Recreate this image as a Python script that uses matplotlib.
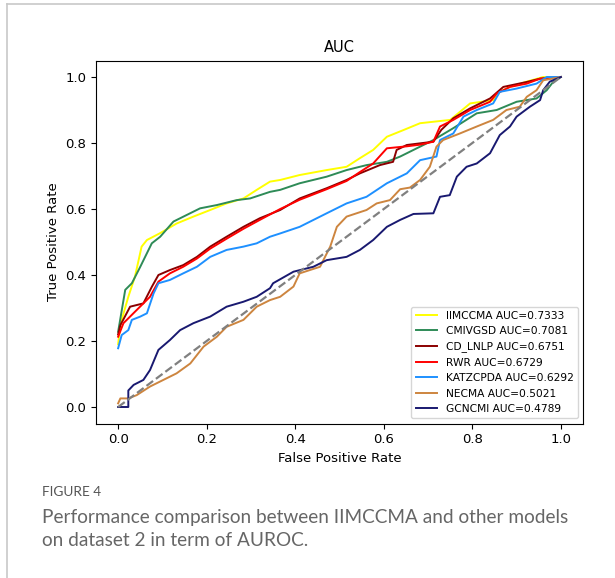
import matplotlib
matplotlib.use("Agg")
import matplotlib.pyplot as plt
from matplotlib.lines import Line2D

# ROC curves
iimccma_x = [0, 0.005, 0.023, 0.038, 0.053, 0.065, 0.095, 0.132, 0.17, 0.208, 0.245, 0.283, 0.313, 0.343,
             0.366, 0.41, 0.471, 0.516, 0.546, 0.576, 0.607, 0.644, 0.682, 0.75, 0.795, 0.847, 0.862,
             0.885, 0.923, 0.96, 1.0]
iimccma_y = [0.19, 0.25, 0.334, 0.395, 0.486, 0.506, 0.527, 0.556, 0.577, 0.597, 0.617, 0.632, 0.658, 0.683,
             0.688, 0.703, 0.718, 0.728, 0.754, 0.779, 0.819, 0.839, 0.86, 0.87, 0.92, 0.93, 0.955,
             0.97, 0.986, 1.0, 1.0]

cmivgsd_x = [0, 0.016, 0.031, 0.05, 0.065, 0.076, 0.095, 0.125, 0.155, 0.185, 0.223, 0.268, 0.298, 0.343,
             0.366, 0.41, 0.471, 0.516, 0.561, 0.607, 0.637, 0.682, 0.712, 0.757, 0.81, 0.855, 0.9,
             0.945, 0.968, 0.983, 1.0]
cmivgsd_y = [0.228, 0.355, 0.375, 0.425, 0.466, 0.496, 0.516, 0.562, 0.582, 0.602, 0.612, 0.627, 0.632, 0.652,
             0.658, 0.678, 0.698, 0.718, 0.733, 0.743, 0.759, 0.789, 0.809, 0.845, 0.89, 0.9, 0.925,
             0.935, 0.96, 0.986, 1.0]

cdlnlp_x = [0, 0.005, 0.027, 0.057, 0.076, 0.091, 0.117, 0.147, 0.178, 0.208, 0.245, 0.283, 0.32, 0.366,
            0.41, 0.471, 0.516, 0.546, 0.591, 0.621, 0.629, 0.652, 0.682, 0.712, 0.73, 0.757, 0.795,
            0.84, 0.87, 0.923, 0.953, 1.0]
cdlnlp_y = [0.22, 0.248, 0.304, 0.314, 0.364, 0.4, 0.415, 0.43, 0.455, 0.486, 0.516, 0.546, 0.572, 0.597,
            0.632, 0.663, 0.688, 0.708, 0.733, 0.743, 0.779, 0.794, 0.799, 0.804, 0.84, 0.875, 0.905,
            0.935, 0.97, 0.985, 0.995, 1.0]

rwr_x = [0, 0.012, 0.042, 0.072, 0.091, 0.117, 0.147, 0.178, 0.208, 0.245, 0.283, 0.32, 0.366, 0.41,
         0.471, 0.516, 0.546, 0.576, 0.607, 0.652, 0.682, 0.712, 0.727, 0.757, 0.795, 0.84, 0.855,
         0.885, 0.923, 0.953, 1.0]
rwr_y = [0.213, 0.254, 0.294, 0.334, 0.38, 0.405, 0.425, 0.45, 0.48, 0.51, 0.54, 0.567, 0.6, 0.628,
         0.66, 0.685, 0.712, 0.738, 0.784, 0.79, 0.795, 0.804, 0.85, 0.87, 0.9, 0.925, 0.95,
         0.97, 0.98, 0.995, 1.0]

katz_x = [0, 0.008, 0.023, 0.031, 0.05, 0.065, 0.08, 0.091, 0.117, 0.147, 0.178, 0.208, 0.245, 0.283,
          0.313, 0.343, 0.366, 0.41, 0.471, 0.516, 0.561, 0.607, 0.652, 0.682, 0.719, 0.727, 0.757,
          0.78, 0.81, 0.847, 0.862, 0.9, 0.945, 0.968, 1.0]
katz_y = [0.178, 0.218, 0.233, 0.264, 0.274, 0.284, 0.344, 0.375, 0.385, 0.405, 0.425, 0.455, 0.476, 0.486,
          0.496, 0.516, 0.526, 0.546, 0.587, 0.617, 0.637, 0.678, 0.708, 0.748, 0.759, 0.809, 0.829,
          0.88, 0.9, 0.92, 0.955, 0.965, 0.98, 1.0, 1.0]

necma_x = [0, 0.005, 0.023, 0.042, 0.072, 0.102, 0.132, 0.163, 0.193, 0.223, 0.245, 0.283, 0.313, 0.343,
           0.366, 0.396, 0.41, 0.456, 0.479, 0.494, 0.516, 0.561, 0.584, 0.614, 0.637, 0.659, 0.682,
           0.704, 0.719, 0.734, 0.772, 0.81, 0.847, 0.877, 0.907, 0.923, 0.945, 0.96, 1.0]
necma_y = [0.011, 0.026, 0.026, 0.036, 0.062, 0.082, 0.102, 0.132, 0.183, 0.213, 0.243, 0.264, 0.304, 0.324,
           0.334, 0.365, 0.405, 0.425, 0.486, 0.546, 0.577, 0.597, 0.617, 0.627, 0.66, 0.665, 0.688,
           0.728, 0.789, 0.809, 0.829, 0.85, 0.87, 0.9, 0.91, 0.94, 0.96, 0.99, 1.0]

gcncmi_x = [0, 0.023, 0.023, 0.035, 0.057, 0.072, 0.091, 0.117, 0.14, 0.17, 0.208, 0.245, 0.283, 0.313,
            0.343, 0.35, 0.396, 0.441, 0.471, 0.516, 0.546, 0.576, 0.607, 0.637, 0.667, 0.712, 0.727,
            0.749, 0.765, 0.787, 0.81, 0.84, 0.862, 0.885, 0.9, 0.93, 0.953, 0.96, 0.975, 1.0]
gcncmi_y = [0, 0, 0.05, 0.067, 0.082, 0.112, 0.173, 0.203, 0.233, 0.254, 0.274, 0.304, 0.319, 0.334,
            0.36, 0.375, 0.41, 0.425, 0.445, 0.455, 0.476, 0.506, 0.546, 0.567, 0.585, 0.587, 0.637,
            0.642, 0.698, 0.728, 0.738, 0.769, 0.824, 0.85, 0.88, 0.91, 0.93, 0.96, 0.986, 1.0]

labels = ['IIMCCMA AUC=0.7333', 'CMIVGSD AUC=0.7081', 'CD_LNLP AUC=0.6751', 'RWR AUC=0.6729',
          'KATZCPDA AUC=0.6292', 'NECMA AUC=0.5021', 'GCNCMI AUC=0.4789']
colors = ['yellow', 'seagreen', 'darkred', 'red', 'dodgerblue', 'peru', 'midnightblue']
curves = [(iimccma_x, iimccma_y), (cmivgsd_x, cmivgsd_y), (cdlnlp_x, cdlnlp_y), (rwr_x, rwr_y),
          (katz_x, katz_y), (necma_x, necma_y), (gcncmi_x, gcncmi_y)]

fig = plt.figure(figsize=(6.15, 5.78), dpi=100)
ax = fig.add_axes([0.1561, 0.2673, 0.7919, 0.628])

for (xs, ys), c, lab in zip(curves, colors, labels):
    ax.plot(xs, ys, color=c, lw=1.4, label=lab)
ax.plot([0, 1], [0, 1], color='gray', lw=1.6, linestyle='--')

ax.set_title('AUC', fontsize=10.5)
ax.set_xlabel('False Positive Rate', fontsize=9.5)
ax.set_ylabel('True Positive Rate', fontsize=9.5)
ax.tick_params(labelsize=9.5)
ax.legend(loc='lower right', fontsize=7.7)

# caption and page frame
fig.text(42 / 615, 1 - 492 / 578, 'FIGURE 4', fontsize=9.8, color='#555555', family='Lato', va='center')
fig.text(42 / 615, 1 - 517 / 578, 'Performance comparison between IIMCCMA and other models',
         fontsize=13.7, color='#666666', family='Lato', va='center')
fig.text(42 / 615, 1 - 541 / 578, 'on dataset 2 in term of AUROC.',
         fontsize=13.7, color='#666666', family='Lato', va='center')
frame = '#c8c8c8'
fig.add_artist(Line2D([7 / 615, 1], [1 - 4 / 578, 1 - 4 / 578], color=frame, lw=1.2, transform=fig.transFigure))
fig.add_artist(Line2D([7 / 615, 7 / 615], [0, 1 - 4 / 578], color=frame, lw=1.2, transform=fig.transFigure))

fig.savefig('out.png', dpi=100)
